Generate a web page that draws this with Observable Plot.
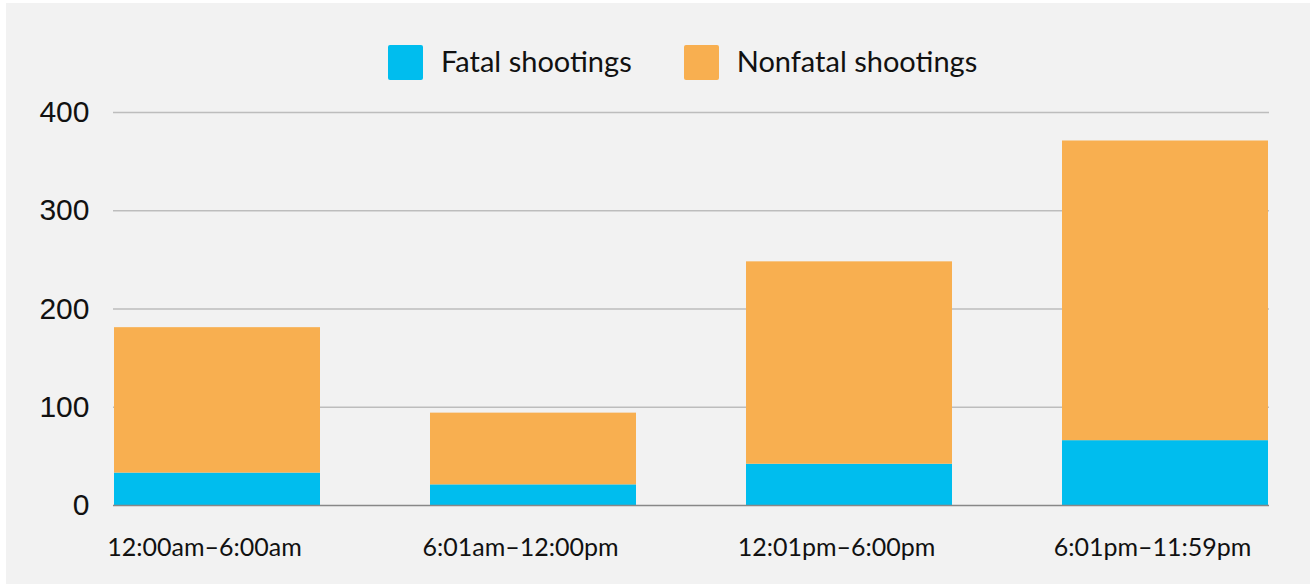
<!DOCTYPE html>
<html>
<head>
<meta charset="utf-8">
<script src="https://cdn.jsdelivr.net/npm/d3@7"></script>
<script src="https://cdn.jsdelivr.net/npm/@observablehq/plot@0.6"></script>
<style>
  html, body { margin: 0; padding: 0; background: #ffffff; }
  #frame { position: absolute; left: 6px; top: 3px; width: 1304px; height: 581px; background: #f2f2f2; overflow: hidden; }
  #legend { height: 92px; box-sizing: border-box; padding-top: 42px; padding-left: 382px; display: flex; align-items: flex-start; font-family: Lato, sans-serif; font-size: 29px; color: #111; }
  .item { display: flex; align-items: center; height: 35px; }
  .item span { position: relative; top: -2px; }
  .sw { width: 35px; height: 35px; border-radius: 2px; margin-right: 18px; flex: none; }
  .item + .item { margin-left: 52px; }
  svg { display: block; }
</style>
</head>
<body>
<div id="frame">
  <div id="legend"></div>
  <div id="chart"></div>
</div>
<script>
const periods = ["12:00am–6:00am", "6:01am–12:00pm", "12:01pm–6:00pm", "6:01pm–11:59pm"];
const seriesNames = ["Fatal shootings", "Nonfatal shootings"];
const fatal = [33, 21, 42, 66];
const nonfatal = [148, 73, 206, 305];
const colors = ["#00bdee", "#f8af50"];
const yTicks = [0, 100, 200, 300, 400];

const rows = [];
periods.forEach((p, i) => {
  rows.push({period: p, type: seriesNames[0], value: fatal[i]});
  rows.push({period: p, type: seriesNames[1], value: nonfatal[i]});
});

const legend = document.getElementById("legend");
seriesNames.forEach((n, i) => {
  const it = document.createElement("div");
  it.className = "item";
  const sw = document.createElement("div");
  sw.className = "sw";
  sw.style.background = colors[i];
  const t = document.createElement("span");
  t.textContent = n;
  it.appendChild(sw); it.appendChild(t);
  legend.appendChild(it);
});

const chart = Plot.plot({
  width: 1304,
  height: 489,
  marginTop: 17,
  marginBottom: 79,
  marginLeft: 107,
  marginRight: 41,
  style: {background: "transparent", color: "#111"},
  x: {domain: periods, paddingInner: 0.347, paddingOuter: 0, label: null},
  y: {domain: [0, 400], label: null},
  color: {domain: seriesNames, range: colors},
  marks: [
    Plot.ruleY(yTicks.filter(d => d > 0), {stroke: "#bdbdbd", strokeWidth: 1.5}),
    Plot.barY(rows, {x: "period", y: "value", fill: "type", order: seriesNames}),
    Plot.ruleY([0], {stroke: "#888888", strokeWidth: 1.5}),
    Plot.axisY({ticks: yTicks, tickSize: 0, tickPadding: 24, fontSize: 30, fontFamily: "Liberation Sans, Arial, sans-serif", label: null, fill: "#111"}),
    Plot.axisX({tickSize: 0, tickPadding: 33, fontSize: 25, fontFamily: "Lato, sans-serif", dx: -13, label: null, fill: "#111"})
  ]
});
document.getElementById("chart").appendChild(chart);
</script>
</body>
</html>
